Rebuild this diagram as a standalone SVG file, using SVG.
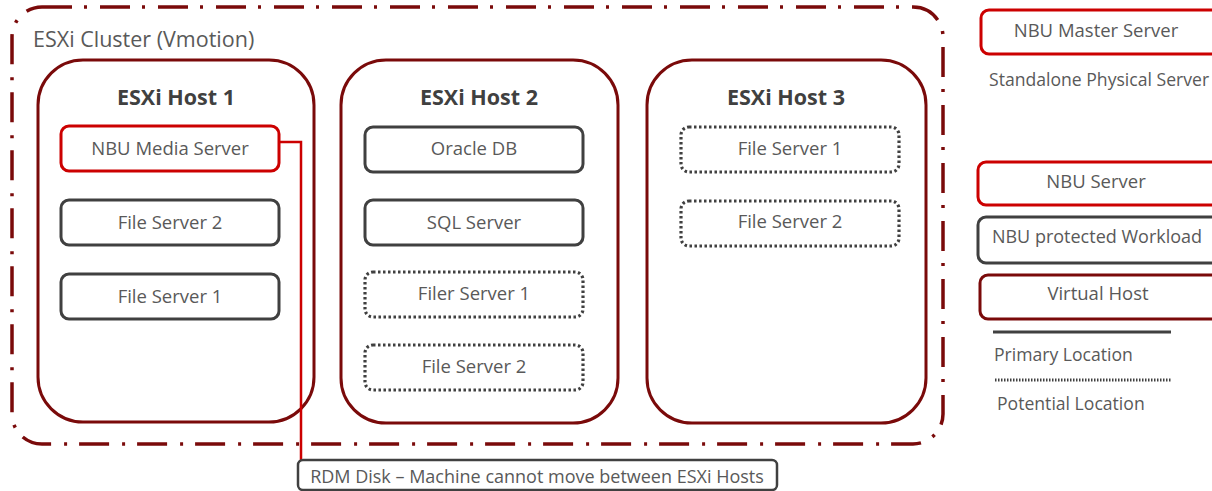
<svg xmlns="http://www.w3.org/2000/svg" width="1212" height="491" viewBox="0 0 1212 491">
<style>
text{font-family:"Open Sans","Noto Sans","Liberation Sans",sans-serif;fill:#595959;dominant-baseline:central}
.cl{fill:none;stroke:#7a0a0a;stroke-width:3.5;stroke-dasharray:30 12 3 13}
.host{fill:#fff;stroke:#7a0a0a;stroke-width:3}
.ht{font-size:21.5px;font-weight:bold;fill:#404040;text-anchor:middle}
.red{fill:#fff;stroke:#cc0000;stroke-width:3}
.gray{fill:#fff;stroke:#404040;stroke-width:3}
.dot{fill:#fff;stroke:#404040;stroke-width:3.2;stroke-dasharray:2.5 2.5}
.vh{fill:#fff;stroke:#7a0a0a;stroke-width:3}
.t{font-size:18.5px;text-anchor:middle}
.l{font-size:17.6px}
</style>
<g id="cluster"><rect class="cl" x="12" y="7" width="931" height="437" rx="30"/><text x="33" y="38" style="font-size:21.5px">ESXi Cluster (Vmotion)</text></g>
<g id="host1"><rect class="host" x="38" y="60" width="276" height="362" rx="45"/><text class="ht" x="176" y="96">ESXi Host 1</text></g>
<g id="host2"><rect class="host" x="341" y="60" width="277" height="363" rx="45"/><text class="ht" x="479" y="96">ESXi Host 2</text></g>
<g id="host3"><rect class="host" x="647" y="60" width="279" height="363" rx="45"/><text class="ht" x="786" y="96">ESXi Host 3</text></g>
<g id="connectors"><polyline points="279,142 301,142 301,461" fill="none" stroke="#cc0000" stroke-width="2.5"/></g>
<g id="nbu-media"><rect class="red" x="61" y="126" width="218" height="45" rx="8"/><text class="t" x="170" y="147">NBU Media Server</text></g>
<g id="h1-fs2"><rect class="gray" x="61" y="200" width="218" height="45" rx="8"/><text class="t" x="170" y="221">File Server 2</text></g>
<g id="h1-fs1"><rect class="gray" x="61" y="274" width="218" height="45" rx="8"/><text class="t" x="170" y="295">File Server 1</text></g>
<g id="oracle"><rect class="gray" x="365" y="127" width="218" height="45" rx="8"/><text class="t" x="474" y="147">Oracle DB</text></g>
<g id="sql"><rect class="gray" x="365" y="200" width="218" height="45" rx="8"/><text class="t" x="474" y="221">SQL Server</text></g>
<g id="h2-fs1"><rect class="dot" x="365" y="272" width="218" height="45" rx="8"/><text class="t" x="474" y="292">Filer Server 1</text></g>
<g id="h2-fs2"><rect class="dot" x="365" y="345" width="218" height="45" rx="8"/><text class="t" x="474" y="365">File Server 2</text></g>
<g id="h3-fs1"><rect class="dot" x="681" y="127" width="218" height="45" rx="8"/><text class="t" x="790" y="147">File Server 1</text></g>
<g id="h3-fs2"><rect class="dot" x="681" y="201" width="218" height="45" rx="8"/><text class="t" x="790" y="220">File Server 2</text></g>
<g id="rdm"><rect x="298" y="460" width="479" height="30" rx="5" fill="#fff" stroke="#404040" stroke-width="2.5"/><text class="t" x="537" y="476" style="font-size:18px">RDM Disk – Machine cannot move between ESXi Hosts</text></g>
<g id="legend-master"><rect class="red" x="981" y="10" width="250" height="44" rx="8"/><text class="t" x="1096" y="29">NBU Master Server</text><text class="l" x="989" y="79">Standalone Physical Server</text></g>
<g id="legend-nbu"><rect class="red" x="978" y="162" width="250" height="43" rx="8"/><text class="t" x="1096" y="180">NBU Server</text></g>
<g id="legend-workload"><rect class="gray" x="978" y="217" width="250" height="46" rx="8"/><text class="t" x="1097" y="236" style="font-size:18px">NBU protected Workload</text></g>
<g id="legend-vh"><rect class="vh" x="980" y="275" width="250" height="44" rx="8"/><text class="t" x="1098" y="292">Virtual Host</text></g>
<g id="legend-lines"><line x1="993" y1="332" x2="1171" y2="332" stroke="#404040" stroke-width="3"/><text class="l" x="994" y="354">Primary Location</text><line x1="995" y1="380" x2="1172" y2="380" stroke="#404040" stroke-width="3" stroke-dasharray="1.5 1.5"/><text class="l" x="997" y="403">Potential Location</text></g>
</svg>
